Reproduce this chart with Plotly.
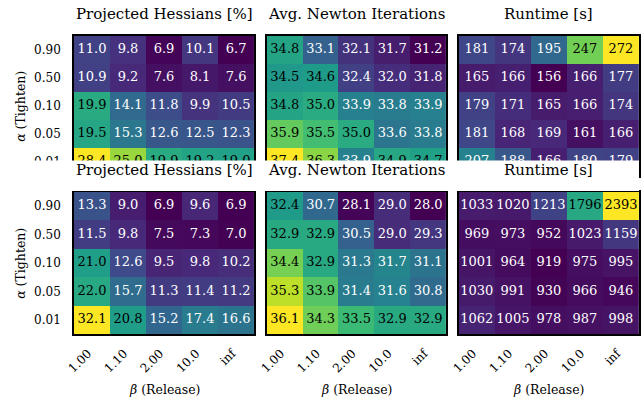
import plotly.graph_objects as go

# ---------------- data ----------------
alphas = ["0.90", "0.50", "0.10", "0.05", "0.01"]
betas = ["1.00", "1.10", "2.00", "10.0", "inf"]
titles = ["Projected Hessians [%]", "Avg. Newton Iterations", "Runtime [s]"]

proj_top = [
    [11.0, 9.8, 6.9, 10.1, 6.7],
    [10.9, 9.2, 7.6, 8.1, 7.6],
    [19.9, 14.1, 11.8, 9.9, 10.5],
    [19.5, 15.3, 12.6, 12.5, 12.3],
    [28.4, 25.0, 19.9, 19.2, 19.0],
]
newton_top = [
    [34.8, 33.1, 32.1, 31.7, 31.2],
    [34.5, 34.6, 32.4, 32.0, 31.8],
    [34.8, 35.0, 33.9, 33.8, 33.9],
    [35.9, 35.5, 35.0, 33.6, 33.8],
    [37.4, 36.3, 33.9, 34.9, 34.7],
]
runtime_top = [
    [181, 174, 195, 247, 272],
    [165, 166, 156, 166, 177],
    [179, 171, 165, 166, 174],
    [181, 168, 169, 161, 166],
    [207, 188, 166, 180, 179],
]
proj_bot = [
    [13.3, 9.0, 6.9, 9.6, 6.9],
    [11.5, 9.8, 7.5, 7.3, 7.0],
    [21.0, 12.6, 9.5, 9.8, 10.2],
    [22.0, 15.7, 11.3, 11.4, 11.2],
    [32.1, 20.8, 15.2, 17.4, 16.6],
]
newton_bot = [
    [32.4, 30.7, 28.1, 29.0, 28.0],
    [32.9, 32.9, 30.5, 29.0, 29.3],
    [34.4, 32.9, 31.3, 31.7, 31.1],
    [35.3, 33.9, 31.4, 31.6, 30.8],
    [36.1, 34.3, 33.5, 32.9, 32.9],
]
runtime_bot = [
    [1033, 1020, 1213, 1796, 2393],
    [969, 973, 952, 1023, 1159],
    [1001, 964, 919, 975, 995],
    [1030, 991, 930, 966, 946],
    [1062, 1005, 978, 987, 998],
]

# ---------------- layout geometry (pixels) ----------------
W, H = 641, 405
FONT = "DejaVu Serif"
col_px = [(67, 250), (263, 445), (458, 641)]
row_px = [(36, 176), (192, 334)]
fmts = [".1f", ".1f", ".0f"]
panels = [[proj_top, newton_top, runtime_top], [proj_bot, newton_bot, runtime_bot]]


def px_x(v):
    return v / W


def px_y(v):
    return 1 - v / H


fig = go.Figure()
layout_axes = {}
annotations = []

for r in range(2):
    for c in range(3):
        idx = r * 3 + c + 1
        sfx = "" if idx == 1 else str(idx)
        xa, ya = "x" + sfx, "y" + sfx
        z = panels[r][c]
        flat = [v for row in z for v in row]
        zmin, zmax = min(flat), max(flat)
        fig.add_trace(go.Heatmap(
            z=z, x=betas, y=alphas, colorscale="Viridis", zmin=zmin, zmax=zmax,
            showscale=False, xaxis=xa, yaxis=ya, hoverinfo="skip"))
        xs, ys, txt, cols = [], [], [], []
        for i, a in enumerate(alphas):
            for j, b in enumerate(betas):
                v = z[i][j]
                xs.append(b)
                ys.append(a)
                txt.append(format(v, fmts[c]))
                cols.append("black" if (v - zmin) / (zmax - zmin) > 0.5 else "white")
        fig.add_trace(go.Scatter(
            x=xs, y=ys, mode="text", text=txt,
            textfont=dict(color=cols, size=13, family=FONT),
            xaxis=xa, yaxis=ya, hoverinfo="skip", showlegend=False))

        x0, x1 = col_px[c]
        y0, y1 = row_px[r]
        layout_axes["xaxis" + sfx] = dict(
            domain=[px_x(x0), min(1.0, px_x(x1))], anchor=ya, type="category",
            categoryorder="array", categoryarray=betas,
            range=[-0.5, 4.5], showline=True, mirror=True, linecolor="black",
            linewidth=1.5, ticks="", showticklabels=(r == 1), tickangle=-45,
            ticklabelstandoff=6, ticklabelshift=-4,
            tickfont=dict(family=FONT, size=12, color="black"),
            showgrid=False, zeroline=False, fixedrange=True)
        layout_axes["yaxis" + sfx] = dict(
            domain=[px_y(y1), px_y(y0)], anchor=xa, type="category",
            categoryorder="array", categoryarray=alphas,
            range=[4.5, -0.5], showline=True, mirror=True, linecolor="black",
            linewidth=1.5, ticks="", showticklabels=(c == 0),
            ticklabelstandoff=9,
            tickfont=dict(family=FONT, size=12, color="black"),
            showgrid=False, zeroline=False, fixedrange=True)

        annotations.append(dict(
            text=titles[c], xref="paper", yref="paper",
            x=px_x((x0 + x1) / 2), y=px_y(y0 - 22), xanchor="center", yanchor="middle",
            showarrow=False, font=dict(family=FONT, size=15, color="black")))

    y0, y1 = row_px[r]
    annotations.append(dict(
        text="<i>α</i> (Tighten)", xref="paper", yref="paper",
        x=px_x(12), y=px_y((y0 + y1) / 2), xanchor="center", yanchor="middle",
        textangle=-90, showarrow=False, font=dict(family=FONT, size=12.5, color="black")))

for c in range(3):
    x0, x1 = col_px[c]
    annotations.append(dict(
        text="<i>β</i> (Release)", xref="paper", yref="paper",
        x=px_x((x0 + x1) / 2), y=px_y(389), xanchor="center", yanchor="middle",
        showarrow=False, font=dict(family=FONT, size=12.5, color="black")))

fig.update_layout(
    width=W, height=H,
    margin=dict(l=0, r=0, t=0, b=0),
    paper_bgcolor="white", plot_bgcolor="white",
    showlegend=False,
    annotations=annotations,
    shapes=[dict(type="rect", xref="paper", yref="paper", x0=0, x1=1,
                 y0=px_y(191), y1=px_y(160.5), layer="above",
                 fillcolor="white", line=dict(width=0))],
    **layout_axes,
)

fig.write_html("out.html", config={"displayModeBar": False},
               post_script="document.body.style.margin='0';")
